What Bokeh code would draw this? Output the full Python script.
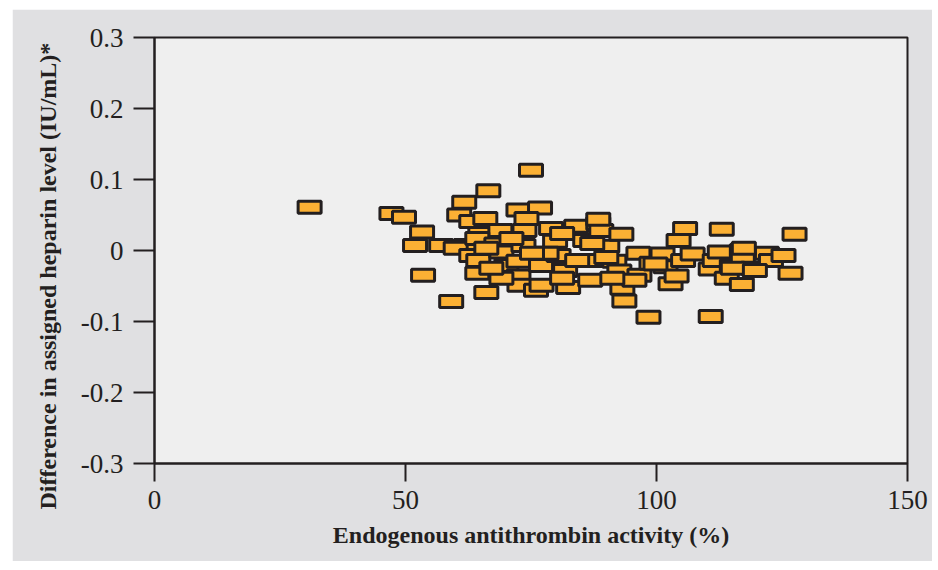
from bokeh.plotting import figure
from bokeh.models import Range1d, FixedTicker, ColumnDataSource, Title
from bokeh.embed import file_html
from bokeh.resources import INLINE

# ---- data ----
x_activity = [30.9, 47.2, 49.7, 53.3, 51.9, 53.5, 59.1, 57.1, 61.7, 66.5,
              75.0, 60.7, 63.1, 65.9, 72.5, 76.8, 74.1, 64.9, 68.9, 62.0,
              60.0, 64.3, 63.1, 64.5, 64.3, 66.1, 68.1, 69.1, 70.1, 72.5,
              72.7, 72.5, 73.5, 73.7, 76.0, 77.1, 77.0, 79.0, 79.8, 80.5,
              81.8, 82.4, 84.0, 85.8, 87.2, 86.8, 88.4, 89.0, 90.2, 91.6,
              92.6, 93.0, 93.2, 93.6, 96.4, 96.6, 98.4, 99.0, 101.2, 101.8,
              102.8, 104.0, 104.4, 105.7, 105.3, 107.2, 110.8, 110.8, 111.6, 113.0,
              112.6, 114.0, 115.0, 117.0, 117.0, 117.2, 119.2, 122.0, 122.8, 125.3,
              126.7, 127.5, 69.1, 71.1, 78.1, 81.2, 84.2, 87.2, 88.4, 90.0,
              95.6, 99.8, 115.2, 119.6, 117.4, 67.1, 66.1, 75.2, 81.2, 91.2]
y_diff = [0.061, 0.052, 0.047, 0.026, 0.007, -0.035, -0.072, 0.007, 0.068, 0.084,
          0.113, 0.050, 0.041, 0.045, 0.057, 0.060, 0.045, 0.024, 0.028, 0.007,
          0.003, 0.017, -0.007, -0.014, -0.032, -0.059, 0.009, -0.002, -0.021, -0.036,
          -0.049, -0.015, 0.007, 0.028, -0.056, -0.049, -0.021, 0.031, 0.013, -0.007,
          -0.028, -0.052, 0.034, 0.014, -0.014, -0.042, 0.038, 0.028, 0.006, -0.015,
          -0.029, 0.023, -0.053, -0.071, -0.004, -0.035, -0.094, -0.018, -0.005, -0.023,
          -0.047, -0.036, 0.014, 0.031, -0.014, -0.005, -0.026, -0.093, -0.014, 0.030,
          -0.002, -0.039, -0.022, -0.048, 0.000, -0.012, -0.025, -0.004, -0.014, -0.007,
          -0.032, 0.023, -0.039, 0.017, -0.004, 0.024, -0.014, 0.010, 0.044, -0.010,
          -0.042, -0.019, -0.025, -0.028, 0.003, -0.025, 0.003, -0.004, -0.039, -0.039]

x_ticks = [0, 50, 100, 150]
y_ticks = [-0.3, -0.2, -0.1, 0, 0.1, 0.2, 0.3]
y_tick_labels = ["-0.3", "-0.2", "-0.1", "0", "0.1", "0.2", "0.3"]
x_title = "Endogenous antithrombin activity (%)"
y_title = "Difference in assigned heparin level (IU/mL)*"

INK = "#231f20"
SERIF = "Liberation Serif"

p = figure(width=920, height=552, output_backend="svg", toolbar_location=None,
           x_range=Range1d(0, 150), y_range=Range1d(-0.3, 0.3),
           min_border_left=142, min_border_right=25, min_border_top=28, min_border_bottom=98,
           background_fill_color="#efefef", border_fill_color="#e0e0e2")
p.margin = (9, 0, 0, 12)
p.grid.visible = False
p.outline_line_color = INK
p.outline_line_width = 2

src = ColumnDataSource(dict(x=x_activity, y=y_diff))
p.rect("x", "y", width=23, height=12, width_units="screen", height_units="screen",
       source=src, fill_color="#fbb034", line_color=INK, line_width=3)

for ax in (p.xaxis[0], p.yaxis[0]):
    ax.axis_line_color = INK
    ax.axis_line_width = 2
    ax.major_tick_line_color = INK
    ax.major_tick_line_width = 2
    ax.major_tick_in = 0
    ax.minor_tick_line_color = None
    ax.major_label_text_font = SERIF
    ax.major_label_text_font_size = "27px"
    ax.major_label_text_color = INK
    ax.axis_label_text_font = SERIF
    ax.axis_label_text_font_style = "bold"
    ax.axis_label_text_font_size = "24px"
    ax.axis_label_text_color = INK

p.xaxis[0].ticker = FixedTicker(ticks=x_ticks)
p.xaxis[0].major_tick_out = 18
p.xaxis[0].major_label_standoff = 9
p.xaxis[0].axis_label = x_title
p.xaxis[0].axis_label_standoff = 10

p.yaxis[0].ticker = FixedTicker(ticks=y_ticks)
p.yaxis[0].major_label_overrides = {t: l for t, l in zip(y_ticks, y_tick_labels)}
p.yaxis[0].major_tick_out = 21
p.yaxis[0].major_label_standoff = 10

p.add_layout(Title(text=y_title, align="left", offset=-46, standoff=33,
                   text_font=SERIF, text_font_style="bold", text_font_size="24px",
                   text_color=INK), "left")

open("out.html", "w").write(file_html(p, INLINE))
